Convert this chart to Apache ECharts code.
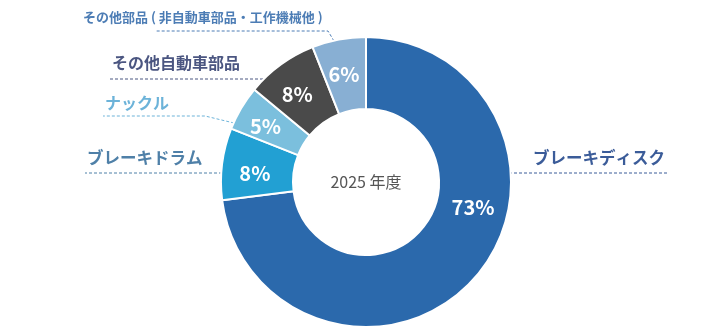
<!DOCTYPE html>
<html>
<head>
<meta charset="utf-8">
<script src="https://cdn.jsdelivr.net/npm/echarts@6/dist/echarts.min.js"></script>
<style>
  html, body { margin: 0; padding: 0; background: #fff; }
  #chart { width: 720px; height: 329px; }
</style>
</head>
<body>
<div id="chart"></div>
<script>
// data
const categories = [
  "ブレーキディスク",
  "ブレーキドラム",
  "ナックル",
  "その他自動車部品",
  "その他部品 ( 非自動車部品・工作機械他 )"
];
const shares = [73, 8, 5, 8, 6];
const yearLabel = "2025 年度";

// styles
const sliceColors = ["#2b69ac", "#22a0d3", "#7bbfdd", "#4a4a4a", "#88afd3"];
const nameColors = ["#3b5c99", "#4f80a8", "#6cb3d9", "#4b5681", "#4d7db5"];
const nameSizes = [16.5, 16.5, 16, 16, 13];

// where each name label and its dashed guide sit
const nameLayout = [
  { x: 533, y: 158, line: [[509, 173], [509, 173], [667, 173]] },
  { x: 87,  y: 158, line: [[222, 173], [222, 173], [85, 173]] },
  { x: 105, y: 103, line: [[234, 123], [205, 116], [103, 116]] },
  { x: 112, y: 63,  line: [[263, 79], [263, 79], [110, 79]] },
  { x: 83,  y: 17,  line: [[334, 41], [328, 31], [156, 31]] }
];
// nudges for the percent labels inside the ring
const pctShift = [[23, -49], [0, 5], [-4, 1], [-3, 3], [-1, 2]];

const font = "'Noto Sans CJK JP', 'Noto Sans', sans-serif";
const center = [366, 182];
const radius = [73, 145];

const chart = echarts.init(document.getElementById("chart"));

chart.setOption({
  animation: false,
  graphic: [{
    type: "text",
    x: center[0],
    y: center[1],
    style: {
      text: yearLabel,
      fill: "#555",
      font: "16px " + font,
      align: "center",
      verticalAlign: "middle"
    }
  }],
  series: [
    {
      type: "pie",
      center: center,
      radius: radius,
      startAngle: 90,
      clockwise: true,
      silent: true,
      itemStyle: { borderColor: "#fff", borderWidth: 2 },
      label: {
        show: true,
        position: "inside",
        formatter: "{c}%",
        color: "#fff",
        fontSize: 20,
        fontWeight: "bold",
        fontFamily: font
      },
      labelLine: { show: false },
      labelLayout: p => ({ dx: pctShift[p.dataIndex][0], dy: pctShift[p.dataIndex][1] }),
      data: categories.map((c, i) => ({
        name: c,
        value: shares[i],
        itemStyle: { color: sliceColors[i] }
      }))
    },
    {
      type: "pie",
      center: center,
      radius: radius,
      startAngle: 90,
      clockwise: true,
      silent: true,
      itemStyle: { color: "rgba(0,0,0,0)", borderWidth: 0 },
      label: {
        show: true,
        position: "outer",
        formatter: "{b}",
        fontWeight: "bold",
        fontFamily: font
      },
      labelLine: {
        show: true,
        length: 10,
        length2: 10,
        lineStyle: { width: 1, type: [3, 2] }
      },
      labelLayout: p => {
        const l = nameLayout[p.dataIndex];
        return {
          x: l.x,
          y: l.y,
          align: "left",
          verticalAlign: "middle",
          labelLinePoints: l.line.map(pt => pt.slice())
        };
      },
      data: categories.map((c, i) => ({
        name: c,
        value: shares[i],
        label: { color: nameColors[i], fontSize: nameSizes[i] },
        labelLine: { lineStyle: { color: nameColors[i] } }
      }))
    }
  ]
});
</script>
</body>
</html>
